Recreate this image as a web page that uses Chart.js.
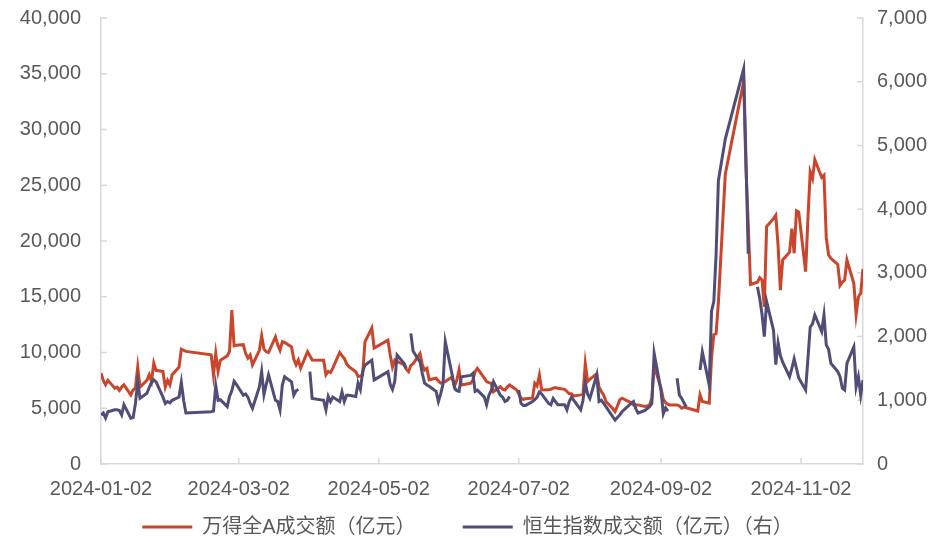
<!DOCTYPE html>
<html>
<head>
<meta charset="utf-8">
<script src="https://cdn.jsdelivr.net/npm/chart.js@4.4.1/dist/chart.umd.min.js"></script>
<style>
    html, body { margin: 0; padding: 0; background: #fff; }
    #wrap { width: 935px; height: 538px; }
</style>
</head>
<body>
<div id="wrap"><canvas id="chart" width="935" height="538"></canvas></div>
<script>
// A-share trading days of 2024 (MM-DD)
const tradeDates = [
    "01-02","01-03","01-04","01-05","01-08","01-09","01-10","01-11","01-12","01-15","01-16","01-17","01-18","01-19","01-22","01-23","01-24","01-25","01-26","01-29","01-30","01-31",
    "02-01","02-02","02-05","02-06","02-07","02-08","02-19","02-20","02-21","02-22","02-23","02-26","02-27","02-28","02-29",
    "03-01","03-04","03-05","03-06","03-07","03-08","03-11","03-12","03-13","03-14","03-15","03-18","03-19","03-20","03-21","03-22","03-25","03-26","03-27","03-28","03-29",
    "04-01","04-02","04-03","04-08","04-09","04-10","04-11","04-12","04-15","04-16","04-17","04-18","04-19","04-22","04-23","04-24","04-25","04-26","04-29","04-30",
    "05-06","05-07","05-08","05-09","05-10","05-13","05-14","05-15","05-16","05-17","05-20","05-21","05-22","05-23","05-24","05-27","05-28","05-29","05-30","05-31",
    "06-03","06-04","06-05","06-06","06-07","06-11","06-12","06-13","06-14","06-17","06-18","06-19","06-20","06-21","06-24","06-25","06-26","06-27","06-28",
    "07-01","07-02","07-03","07-04","07-05","07-08","07-09","07-10","07-11","07-12","07-15","07-16","07-17","07-18","07-19","07-22","07-23","07-24","07-25","07-26","07-29","07-30","07-31",
    "08-01","08-02","08-05","08-06","08-07","08-08","08-09","08-12","08-13","08-14","08-15","08-16","08-19","08-20","08-21","08-22","08-23","08-26","08-27","08-28","08-29","08-30",
    "09-02","09-03","09-04","09-05","09-06","09-09","09-10","09-11","09-12","09-13","09-18","09-19","09-20","09-23","09-24","09-25","09-26","09-27","09-30",
    "10-08","10-09","10-10","10-11","10-14","10-15","10-16","10-17","10-18","10-21","10-22","10-23","10-24","10-25","10-28","10-29","10-30","10-31",
    "11-01","11-04","11-05","11-06","11-07","11-08","11-11","11-12","11-13","11-14","11-15","11-18","11-19","11-20","11-21","11-22","11-25","11-26","11-27","11-28","11-29"
];

// 万得全A成交额 (left axis)
const aShareTurnover = [
    8150, 7500, 7100, 7500, 6800, 6900, 6600, 6900, 7100, 6200, 6650, 6800, 8700, 6900, 7500, 8000, 7400, 9050, 8400, 8300, 6900, 7500,
    7100, 8000, 8700, 10300, 10200, 10100, 9800, 8000, 9900, 8300, 9300, 9700, 10100, 13800, 10600,
    10650, 10700, 9930, 9500, 9780, 8880, 10200, 11500, 10300, 10070, 10000, 11400, 10700, 10200, 10970, 10900, 10500, 9400, 8900, 9330, 8600,
    10070, 9700, 9330, 9300, 8000, 8300, 8200, 8600, 10000, 9700, 9480, 9000, 8730, 8280, 7830, 7900, 7980, 10950, 12200, 10400,
    11100, 9800, 8700, 9330, 9200, 8900, 8500, 8280, 8850, 9000, 9900, 8900, 8430, 8580, 7550, 7700, 7450, 7250, 7300, 7400,
    7800, 6950, 7500, 8430, 7090, 7240, 7500, 8280, 8580, 7700, 7400, 7300, 7240, 6480, 6930, 6700, 6640, 6900, 7090,
    6650, 6300, 5900, 5800, 5850, 5900, 7240, 7000, 7980, 6640, 6650, 6700, 6800, 6850, 6800, 6700, 6500, 6300, 6300, 6100, 6200, 6250, 9000,
    7400, 7600, 8100, 6900, 6500, 6200, 5600, 4950, 4700, 5200, 5750, 5900, 5600, 5500, 5300, 5300, 5300, 5150, 5200, 5300, 5900, 8800,
    6800, 5800, 5500, 5350, 5300, 5300, 5200, 5000, 5100, 5050, 4750, 6200, 5600, 5450, 9500, 11600, 11700, 14500, 26000,
    34300, 26500, 21500, 16100, 16300, 16700, 16500, 14100, 21300, 22000, 22300, 19600, 15600, 18300, 19000, 21100, 18900, 22700,
    22600, 17250, 22000, 26200, 25600, 27300, 25700, 25900, 20300, 18750, 18450, 17900, 16000, 16300, 16500, 18300, 16200, 13400, 15000, 15300, 17500
];

// 恒生指数成交额 (right axis), null = HK market closed
const hsiTurnover = [
    770, 800, 720, 820, 850, 850, 840, 770, 930, 720, 730, 950, 1290, 1030, 1110, 1200, 1280, 1320, 1290, 1050, 950, 980,
    960, 1000, 1050, 1280, 1000, 800, 820, 830, 1230, 1000, 1010, 900, 1060, 1150, 1300,
    1250, 1080, 1100, 1050, 950, 874, 1210, 1450, 1090, 1250, 1400, 1000, 980, 850, 1240, 1370, 1290, 1080, 1150, 1170, null,
    null, 1450, 1030, 1000, 850, 1060, 980, 1050, 980, 1130, 980, 1080, 1080, 1060, 1270, 1170, 1450, 1550, 1630, 1320,
    1450, 1250, 1170, 1300, 1710, 1580, 1500, null, 2050, 1770, 1600, 1420, 1270, 1240, 1220, 1140, 980, 1100, 1250, 1920,
    1400, 1200, 1150, 1140, 1370, 1390, 1420, 1140, 1160, 1050, 930, 1080, 1150, 1290, 1080, 1050, 980, 1000, 1060,
    null, 1160, 950, 920, 920, 980, 1010, 1050, 1130, 1100, 950, 930, 1030, 980, 930, 930, 850, 980, 1050, 1000, 850, 1000, 1270,
    1100, 1030, 1400, 980, 1000, 950, 900, 740, 690, 730, 770, 820, 920, 950, 980, 870, 800, 840, 870, 900, 950, 1740,
    1150, 790, 880, 830, null, 1345, 1080, 1030, 960, 900, null, 1475, 1760, 1240, 2400, 2550, 3300, 4450, 5100,
    6200, 4800, 3300, null, 2780, 2600, 2350, 2000, 2550, 2100, 1560, 1900, 1700, 1600, 1370, 1500, 1650, 1500,
    1350, 1160, 1650, 2150, 2200, 2340, 2080, 2340, 1870, 1800, 1580, 1450, 1370, 1190, 1160, 1580, 1840, 1210, 1370, 1080, 1320
];

const xTickDates = ["01-02", "03-02", "05-02", "07-02", "09-02", "11-02"];

const RED = "#C9452B";
const PURPLE = "#504E76";
const TEXT = "#595959";
const AXIS = "#D9D9D9";

function dayIndex(md) {
    const parts = md.split("-").map(Number);
    return Math.round((Date.UTC(2024, parts[0] - 1, parts[1]) - Date.UTC(2024, 0, 2)) / 86400000);
}

function fmt(v) {
    return String(v).replace(/\B(?=(\d{3})+(?!\d))/g, ",");
}

// short tick marks pointing into the plot area
const innerTicks = {
    id: "innerTicks",
    beforeDatasetsDraw(chart) {
        const { ctx, chartArea: a, scales } = chart;
        ctx.save();
        ctx.strokeStyle = AXIS;
        ctx.lineWidth = 1.5;
        ctx.beginPath();
        scales.x.ticks.forEach(t => {
            const px = scales.x.getPixelForValue(t.value);
            ctx.moveTo(px, a.bottom);
            ctx.lineTo(px, a.bottom - 6);
        });
        scales.y.ticks.forEach(t => {
            const py = scales.y.getPixelForValue(t.value);
            ctx.moveTo(a.left, py);
            ctx.lineTo(a.left + 6, py);
        });
        scales.y1.ticks.forEach(t => {
            const py = scales.y1.getPixelForValue(t.value);
            ctx.moveTo(a.right, py);
            ctx.lineTo(a.right - 6, py);
        });
        ctx.stroke();
        ctx.restore();
    }
};

const tickFont = { family: "'Liberation Sans', Arial, sans-serif", size: 20 };

// fixed axis sizes so the plot area sits where the original has it
function fitY(width) {
    return s => {
        s.width = width;
        s.paddingTop = 0;
        s.paddingBottom = 0;
    };
}

new Chart(document.getElementById("chart"), {
    type: "line",
    data: {
        datasets: [
            {
                label: "万得全A成交额（亿元）",
                data: tradeDates.map((d, i) => ({ x: dayIndex(d), y: aShareTurnover[i] })),
                borderColor: RED,
                backgroundColor: RED,
                borderWidth: 3,
                pointRadius: 0,
                tension: 0,
                yAxisID: "y",
                order: 1
            },
            {
                label: "恒生指数成交额（亿元）（右）",
                data: tradeDates.map((d, i) => ({ x: dayIndex(d), y: hsiTurnover[i] })),
                borderColor: PURPLE,
                backgroundColor: PURPLE,
                borderWidth: 3,
                pointRadius: 0,
                tension: 0,
                spanGaps: false,
                yAxisID: "y1",
                order: 0
            }
        ]
    },
    options: {
        responsive: false,
        animation: false,
        devicePixelRatio: 1,
        layout: { padding: { top: 18, left: 0, right: 0, bottom: 0 } },
        plugins: {
            tooltip: { enabled: false },
            legend: {
                position: "bottom",
                maxHeight: 27,
                labels: {
                    boxWidth: 50,
                    boxHeight: 3,
                    padding: 6,
                    color: TEXT,
                    font: { family: "'Liberation Sans', 'Noto Sans CJK SC', sans-serif", size: 20 },
                    generateLabels(chart) {
                        return chart.data.datasets.map((ds, i) => ({
                            text: i === 0 ? ds.label + "\u3000\u3000  " : ds.label,
                            fillStyle: ds.borderColor,
                            strokeStyle: ds.borderColor,
                            lineWidth: 0,
                            hidden: false,
                            datasetIndex: i,
                            fontColor: TEXT
                        }));
                    }
                }
            }
        },
        scales: {
            x: {
                type: "linear",
                min: 0,
                max: dayIndex(tradeDates[tradeDates.length - 1]),
                afterBuildTicks: s => { s.ticks = xTickDates.map(d => ({ value: dayIndex(d) })); },
                afterFit: s => { s.height = 47; },
                grid: { drawOnChartArea: false, drawTicks: false },
                border: { color: AXIS, width: 1.5 },
                ticks: {
                    autoSkip: false,
                    maxRotation: 0,
                    padding: 13,
                    color: TEXT,
                    font: tickFont,
                    callback: v => {
                        const d = xTickDates.find(t => dayIndex(t) === v);
                        return d ? "2024-" + d : "";
                    }
                }
            },
            y: {
                position: "left",
                min: 0,
                max: 40000,
                afterFit: fitY(101),
                grid: { drawOnChartArea: false, drawTicks: false },
                border: { color: AXIS, width: 1.5 },
                ticks: { stepSize: 5000, padding: 20, color: TEXT, font: tickFont, callback: v => fmt(v) }
            },
            y1: {
                position: "right",
                min: 0,
                max: 7000,
                afterFit: fitY(72),
                grid: { drawOnChartArea: false, drawTicks: false },
                border: { color: AXIS, width: 1.5 },
                ticks: { stepSize: 1000, padding: 14, color: TEXT, font: tickFont, callback: v => fmt(v) }
            }
        }
    },
    plugins: [innerTicks]
});
</script>
</body>
</html>
